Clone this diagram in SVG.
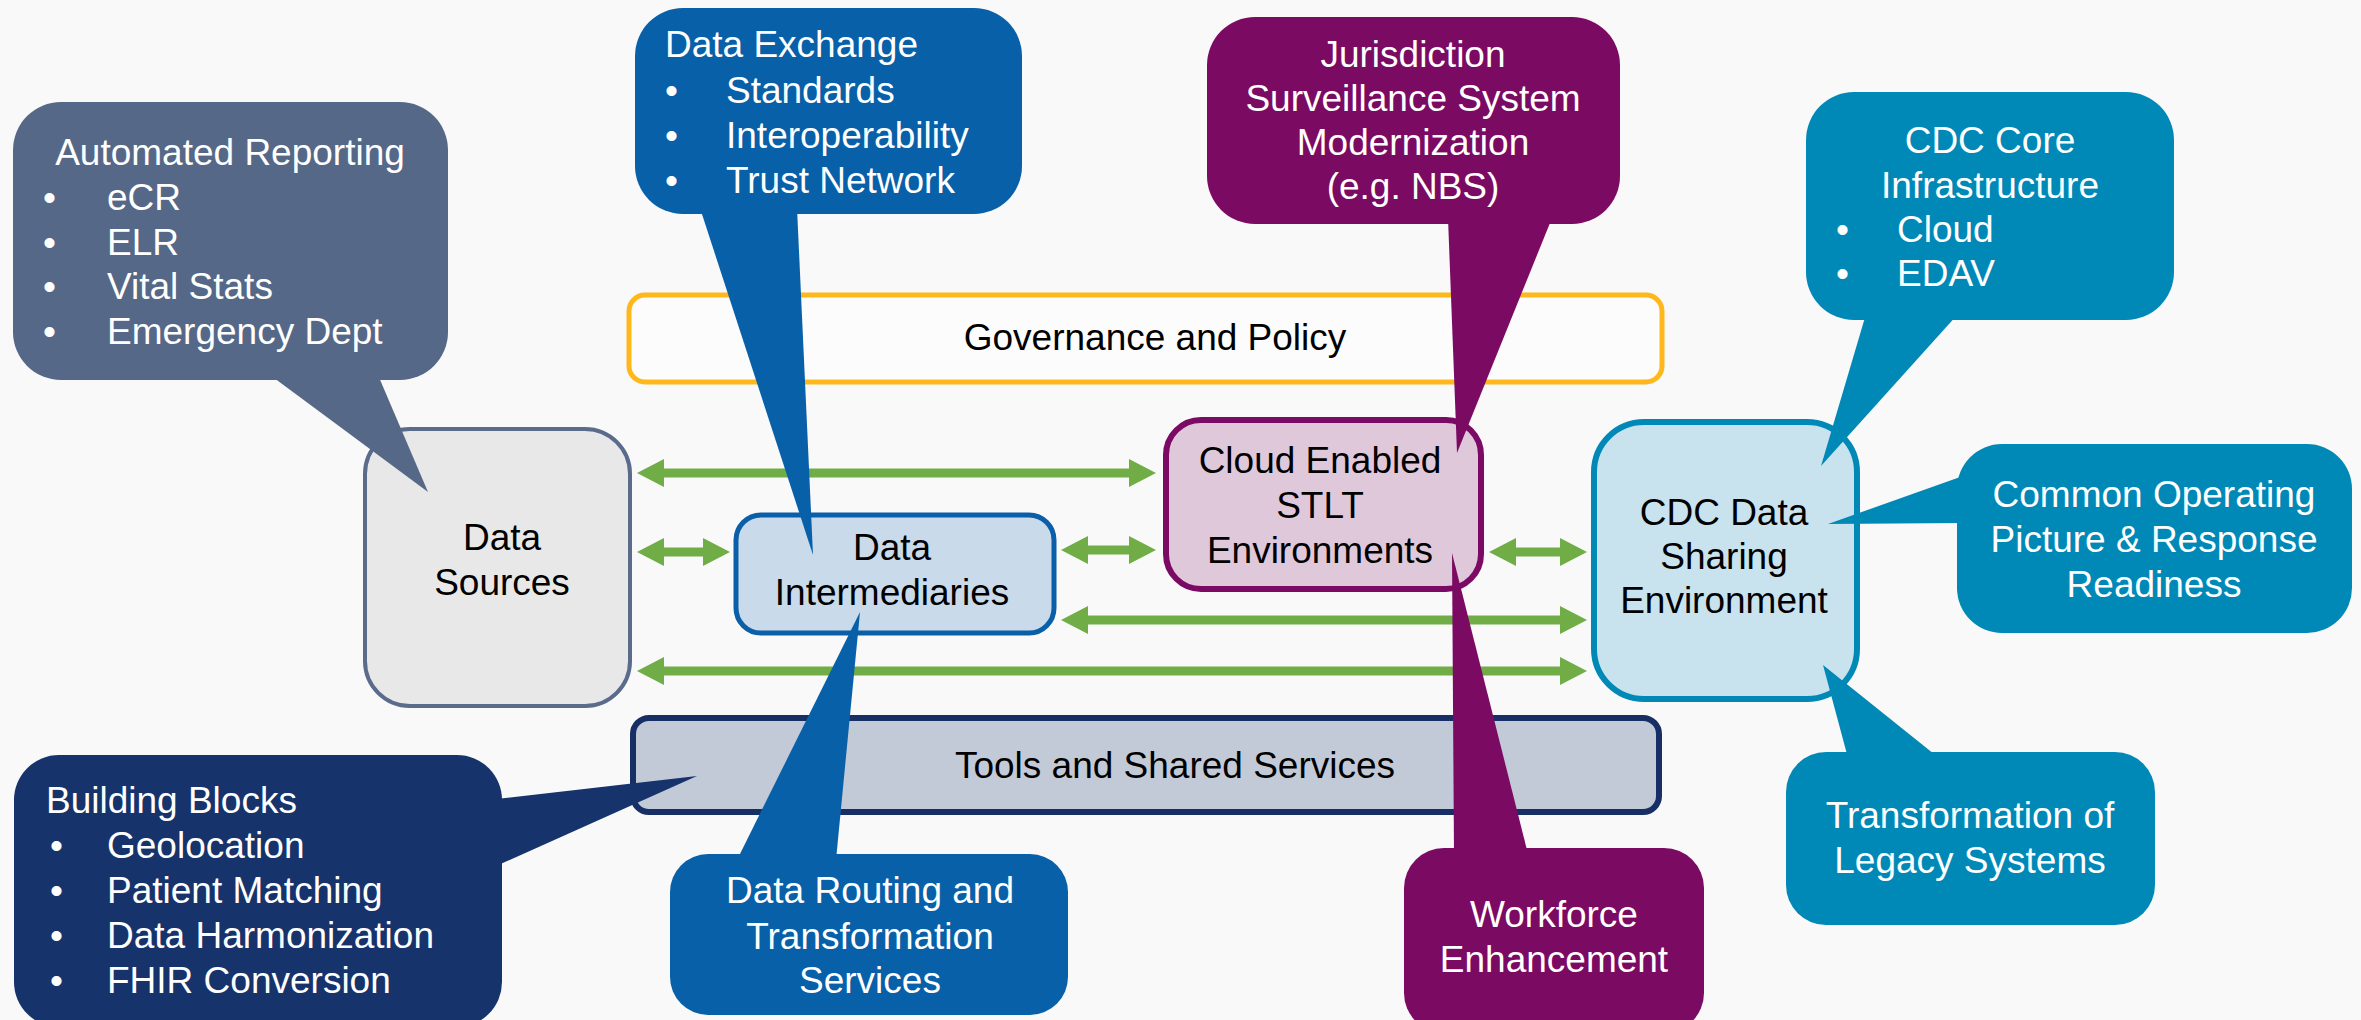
<svg xmlns="http://www.w3.org/2000/svg" width="2361" height="1020" viewBox="0 0 2361 1020">
<style>
text{font-family:"Liberation Sans",Arial,sans-serif;font-size:37px}
.w{fill:#FFFFFF}
.k{fill:#000000}
.c{text-anchor:middle}
.gray{fill:#566887}
.blue{fill:#0860A8}
.purple{fill:#7B0A63}
.teal{fill:#0089B7}
.navy{fill:#17336B}
.arrow{stroke:#70AD47;stroke-width:9;fill:none;marker-start:url(#ah);marker-end:url(#ah)}
</style>
<defs>
<marker id="ah" markerUnits="userSpaceOnUse" markerWidth="28" markerHeight="28" refX="1" refY="14" orient="auto-start-reverse" overflow="visible">
<path d="M0,0 L27,14 L0,28 Z" fill="#70AD47"/>
</marker>
</defs>
<rect width="2361" height="1020" fill="#F9F9F9"/>

<g id="governance">
<rect x="629" y="295" width="1033" height="87" rx="16" fill="#FCFCFC" stroke="#FFB81C" stroke-width="5"/>
<text class="k c" x="1155" y="350">Governance and Policy</text>
</g>
<g id="tools">
<rect x="633" y="718" width="1026" height="94" rx="16" fill="#C3CAD7" stroke="#182F66" stroke-width="6"/>
<text class="k c" x="1175" y="778">Tools and Shared Services</text>
</g>
<g id="data-sources">
<rect x="365" y="429" width="265" height="277" rx="45" fill="#E8E8E8" stroke="#5B6B8C" stroke-width="4"/>
<text class="k c" x="502" y="550">Data</text>
<text class="k c" x="502" y="595">Sources</text>
</g>
<g id="data-intermediaries">
<rect x="736" y="515" width="318" height="118" rx="25" fill="#C9DBEB" stroke="#0A5FA8" stroke-width="5"/>
<text class="k c" x="892" y="560">Data</text>
<text class="k c" x="892" y="605">Intermediaries</text>
</g>
<g id="cloud-stlt">
<rect x="1166" y="420" width="315" height="169" rx="35" fill="#E0C8DB" stroke="#7A0A63" stroke-width="6"/>
<text class="k c" x="1320" y="473">Cloud Enabled</text>
<text class="k c" x="1320" y="518">STLT</text>
<text class="k c" x="1320" y="563">Environments</text>
</g>
<g id="cdc-sharing">
<rect x="1594" y="422" width="263" height="277" rx="50" fill="#C9E3EE" stroke="#0089B7" stroke-width="6"/>
<text class="k c" x="1724" y="525">CDC Data</text>
<text class="k c" x="1724" y="569">Sharing</text>
<text class="k c" x="1724" y="613">Environment</text>
</g>

<g id="connectors">
<line class="arrow" x1="663" y1="473" x2="1130" y2="473"/>
<line class="arrow" x1="663" y1="552" x2="704" y2="552"/>
<line class="arrow" x1="1087" y1="550" x2="1130" y2="550"/>
<line class="arrow" x1="1515" y1="552" x2="1561" y2="552"/>
<line class="arrow" x1="1087" y1="620" x2="1561" y2="620"/>
<line class="arrow" x1="663" y1="671" x2="1561" y2="671"/>
</g>

<g id="callout-automated-reporting">
<rect class="gray" x="13" y="102" width="435" height="278" rx="48"/>
<polygon class="gray" points="270,375 378,375 428,492"/>
<text class="w c" x="230" y="165">Automated Reporting</text>
<text class="w" x="43" y="210">•</text><text class="w" x="107" y="210">eCR</text>
<text class="w" x="43" y="255">•</text><text class="w" x="107" y="255">ELR</text>
<text class="w" x="43" y="299">•</text><text class="w" x="107" y="299">Vital Stats</text>
<text class="w" x="43" y="344">•</text><text class="w" x="107" y="344">Emergency Dept</text>
</g>
<g id="callout-data-exchange">
<rect class="blue" x="635" y="8" width="387" height="206" rx="48"/>
<polygon class="blue" points="700,208 797,208 813,555"/>
<text class="w" x="665" y="57">Data Exchange</text>
<text class="w" x="665" y="103">•</text><text class="w" x="726" y="103">Standards</text>
<text class="w" x="665" y="148">•</text><text class="w" x="726" y="148">Interoperability</text>
<text class="w" x="665" y="193">•</text><text class="w" x="726" y="193">Trust Network</text>
</g>
<g id="callout-jurisdiction">
<rect class="purple" x="1207" y="17" width="413" height="207" rx="48"/>
<polygon class="purple" points="1448,218 1552,218 1457,453"/>
<text class="w c" x="1413" y="67">Jurisdiction</text>
<text class="w c" x="1413" y="111">Surveillance System</text>
<text class="w c" x="1413" y="155">Modernization</text>
<text class="w c" x="1413" y="199">(e.g. NBS)</text>
</g>
<g id="callout-cdc-core">
<rect class="teal" x="1806" y="92" width="368" height="228" rx="48"/>
<polygon class="teal" points="1866,314 1958,314 1821,466"/>
<text class="w c" x="1990" y="153">CDC Core</text>
<text class="w c" x="1990" y="198">Infrastructure</text>
<text class="w" x="1836" y="242">•</text><text class="w" x="1897" y="242">Cloud</text>
<text class="w" x="1836" y="286">•</text><text class="w" x="1897" y="286">EDAV</text>
</g>
<g id="callout-common-operating">
<rect class="teal" x="1957" y="444" width="395" height="189" rx="45"/>
<polygon class="teal" points="1963,476 1963,523 1828,524"/>
<text class="w c" x="2154" y="507">Common Operating</text>
<text class="w c" x="2154" y="552">Picture &amp; Response</text>
<text class="w c" x="2154" y="597">Readiness</text>
</g>
<g id="callout-transformation">
<rect class="teal" x="1786" y="752" width="369" height="173" rx="40"/>
<polygon class="teal" points="1848,758 1939,758 1823,665"/>
<text class="w c" x="1970" y="828">Transformation of</text>
<text class="w c" x="1970" y="873">Legacy Systems</text>
</g>
<g id="callout-workforce">
<rect class="purple" x="1404" y="848" width="300" height="185" rx="40"/>
<polygon class="purple" points="1454,854 1528,854 1452,553"/>
<text class="w c" x="1554" y="927">Workforce</text>
<text class="w c" x="1554" y="972">Enhancement</text>
</g>
<g id="callout-data-routing">
<rect class="blue" x="670" y="854" width="398" height="161" rx="38"/>
<polygon class="blue" points="737,860 836,860 860,612"/>
<text class="w c" x="870" y="903">Data Routing and</text>
<text class="w c" x="870" y="949">Transformation</text>
<text class="w c" x="870" y="993">Services</text>
</g>
<g id="callout-building-blocks">
<rect class="navy" x="14" y="755" width="488" height="272" rx="45"/>
<polygon class="navy" points="496,799 496,866 697,776"/>
<text class="w" x="46" y="813">Building Blocks</text>
<text class="w" x="50" y="858">•</text><text class="w" x="107" y="858">Geolocation</text>
<text class="w" x="50" y="903">•</text><text class="w" x="107" y="903">Patient Matching</text>
<text class="w" x="50" y="948">•</text><text class="w" x="107" y="948">Data Harmonization</text>
<text class="w" x="50" y="993">•</text><text class="w" x="107" y="993">FHIR Conversion</text>
</g>
</svg>
